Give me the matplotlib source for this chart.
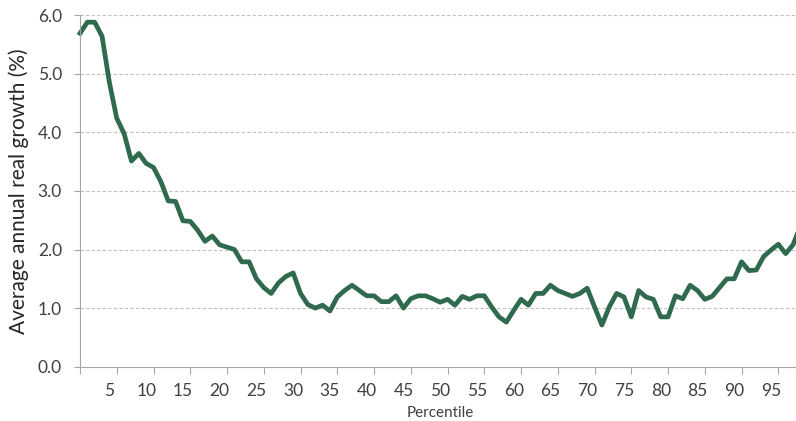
import matplotlib.pyplot as plt
import numpy as np

plt.rcParams["font.family"] = ["Lato", "DejaVu Sans"]

# percentile 1..99
percentiles = list(range(1, 100))
growth = [
    5.69, 5.88, 5.88, 5.64, 4.85, 4.24, 3.98, 3.51, 3.64, 3.47,
    3.40, 3.16, 2.83, 2.82, 2.49, 2.48, 2.33, 2.14, 2.23, 2.08,
    2.04, 2.00, 1.79, 1.79, 1.50, 1.35, 1.25, 1.43, 1.54, 1.60,
    1.25, 1.06, 1.00, 1.05, 0.95, 1.19, 1.30, 1.39, 1.30, 1.21,
    1.21, 1.11, 1.11, 1.21, 1.00, 1.16, 1.21, 1.21, 1.16, 1.10,
    1.15, 1.05, 1.20, 1.15, 1.21, 1.21, 1.02, 0.85, 0.76, 0.96,
    1.15, 1.05, 1.25, 1.25, 1.39, 1.30, 1.25, 1.20, 1.25, 1.34,
    1.02, 0.71, 1.02, 1.25, 1.19, 0.85, 1.30, 1.19, 1.15, 0.85,
    0.85, 1.21, 1.16, 1.39, 1.30, 1.15, 1.20, 1.35, 1.50, 1.50,
    1.79, 1.64, 1.65, 1.88, 1.99, 2.09, 1.93, 2.08, 2.40,
]
label_ticks = list(range(5, 100, 5))
mark_ticks = list(range(1, 100, 5))

grey = "#A6A6A6"
text_col = "#404040"

fig = plt.figure(figsize=(7.96, 4.21), dpi=100)
ax = fig.add_axes([0.1005, 0.129, 0.905, 0.835])

ax.plot(percentiles, growth, color="#2F6A4E", linewidth=3.4, solid_joinstyle="round", clip_on=False)

ax.set_xlim(1, 99)
ax.set_ylim(0, 6)
ax.set_yticks(np.arange(0, 6.01, 1.0))
ax.set_yticklabels([f"{v:.1f}" for v in np.arange(0, 6.01, 1.0)])
for v in range(1, 7):
    ax.axhline(v, color="#BFBFBF", linestyle=(0, (3, 2)), linewidth=0.8, zorder=0)

# labels at category positions, tick marks every 5th category from the first
ax.set_xticks(label_ticks)
ax.set_xticklabels([str(t) for t in label_ticks])
ax.tick_params(axis="x", which="major", length=0, pad=12, labelsize=12.5, labelcolor=text_col)
ax.set_xticks(mark_ticks, minor=True)
ax.tick_params(axis="x", which="minor", length=5, width=0.8, color=grey, direction="out")
ax.tick_params(axis="y", length=4.5, width=0.8, color=grey, labelsize=12.5, labelcolor=text_col, pad=8.5)

for s in ["top", "right"]:
    ax.spines[s].set_visible(False)
for s in ["left", "bottom"]:
    ax.spines[s].set_color(grey)
    ax.spines[s].set_linewidth(0.8)

ax.set_xlabel("Percentile", fontsize=11, color=text_col, labelpad=4.5)
ax.set_ylabel("Average annual real growth (%)", fontsize=15, color="#262626", labelpad=6)

fig.savefig("out.png", dpi=100)
